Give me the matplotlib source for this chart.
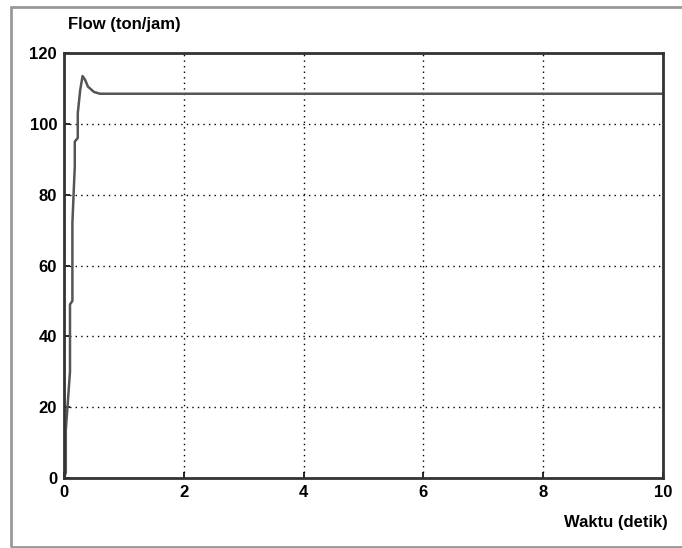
import matplotlib.pyplot as plt
from matplotlib.patches import Rectangle

# step response of flow
t = [0.0, 0.03, 0.03, 0.1, 0.1, 0.14, 0.14, 0.18, 0.18, 0.23, 0.23, 0.27, 0.31, 0.35, 0.4, 0.5, 0.6, 10.0]
flow = [0.0, 1.5, 13.5, 30.0, 49.0, 50.0, 72.0, 88.0, 95.0, 96.0, 103.0, 109.5, 113.5, 112.5, 110.5, 109.0, 108.5, 108.5]

xticks = [0, 2, 4, 6, 8, 10]
yticks = [0, 20, 40, 60, 80, 100, 120]

plt.rcParams['font.family'] = ['Liberation Sans Narrow', 'Liberation Sans', 'DejaVu Sans']
plt.rcParams['font.weight'] = 'bold'

fig = plt.figure(figsize=(6.82, 5.48), dpi=100)
ax = fig.add_axes([64/682, 1 - 478/548, 599/682, 425/548])

ax.plot(t, flow, color='#555555', lw=1.8)

ax.set_xlim(0, 10)
ax.set_ylim(0, 120)
ax.set_xticks(xticks)
ax.set_yticks(yticks)
ax.tick_params(direction='in', length=4, width=1.2, labelsize=12, pad=5)
ax.grid(True, color='black', linestyle=(0, (1, 3)), linewidth=1.0)
for s in ax.spines.values():
    s.set_linewidth(2)
    s.set_color('#333333')

fig.text(68/682, 1 - 25/548, 'Flow (ton/jam)', fontsize=12, fontweight='bold', va='center', ha='left')
fig.text(668/682, 1 - 522/548, 'Waktu (detik)', fontsize=12, fontweight='bold', va='center', ha='right')

# frame round the figure (right side runs off the picture)
fig.patches.append(Rectangle((11/682, 1 - 547/548), 700/682, 540/548, transform=fig.transFigure,
                             fill=False, edgecolor='#999999', lw=2, clip_on=False))

plt.savefig('out.png', dpi=100)
